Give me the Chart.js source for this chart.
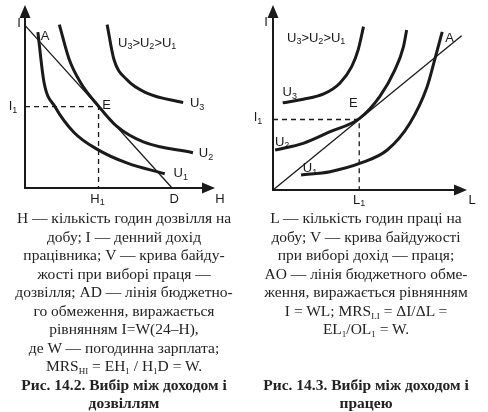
<!DOCTYPE html>
<html lang="uk">
<head>
<meta charset="utf-8">
<script src="https://cdn.jsdelivr.net/npm/chart.js@4.4.1/dist/chart.umd.min.js"></script>
<style>
    html, body { margin: 0; padding: 0; background: #fff; }
    #page { position: relative; width: 488px; height: 412px; overflow: hidden; }
    canvas { position: absolute; top: 0; }
    #leftChart { left: 0; }
    #rightChart { left: 244px; }
    .caption {
        position: absolute;
        top: 209px;
        text-align: center;
        font-family: 'Liberation Serif', 'Times New Roman', serif;
        font-size: 15.5px;
        line-height: 18.5px;
        color: #222;
        white-space: nowrap;
    }
    .caption b { font-weight: bold; }
    .caption sub { font-size: 9px; line-height: 0; vertical-align: -3px; }
    #capLeft { left: 0; width: 248px; }
    #capRight { left: 244px; width: 244px; }
</style>
</head>
<body>
<div id="page">
    <canvas id="leftChart" width="244" height="210"></canvas>
    <canvas id="rightChart" width="244" height="210"></canvas>

    <div class="caption" id="capLeft">
        H — кількість годин дозвілля на<br>
        добу; I — денний дохід<br>
        працівника; V — крива байду-<br>
        жості при виборі праця —<br>
        дозвілля; AD — лінія бюджетно-<br>
        го обмеження, виражається<br>
        рівнянням I=W(24–H),<br>
        де W — погодинна зарплата;<br>
        MRS<sub>HI</sub> = EH<sub>1</sub> / H<sub>1</sub>D = W.<br>
        <b>Рис. 14.2. Вибір між доходом і</b><br>
        <b>дозвіллям</b>
    </div>

    <div class="caption" id="capRight">
        L — кількість годин праці на<br>
        добу; V — крива байдужості<br>
        при виборі дохід — праця;<br>
        AO — лінія бюджетного обме-<br>
        ження, виражається рівнянням<br>
        I = WL; MRS<sub>LI</sub> = ΔI/ΔL =<br>
        EL<sub>1</sub>/OL<sub>1</sub> = W.<br>
        &nbsp;<br>
        &nbsp;<br>
        <b>Рис. 14.3. Вибір між доходом і</b><br>
        <b>працею</b>
    </div>
</div>

<script>
// Рис. 14.2 — дозвілля (H, годин) і дохід (I)
const axisH = [0, 31];
const axisI_left = [0, 135];
const adH = [0, 24];
const adI = [120, 0];
const pointE_left = [12, 60];      // H1, I1

const u1H = [2.1, 3.1, 4.9, 8.0, 11.8, 16.6, 22.8];
const u1I = [115, 78, 60, 41, 28.5, 18.5, 10.5];
const u2H = [5.6, 7.2, 9.1, 12, 15, 19.3, 27.4];
const u2I = [120.5, 95, 77.5, 60.4, 45.4, 34, 26];
const u3H = [13.4, 14.5, 16.6, 19.9, 25.8];
const u3I = [120.5, 95, 80, 70, 63];

// Рис. 14.3 — праця (L, годин) і дохід (I)
const axisL = [0, 18];
const axisI_right = [0, 105];
const oaL = [0, 17.5];
const oaI = [0, 87.5];
const pointE_right = [8, 40];      // L1, I1

const v1L = [2.6, 5.3, 8.1, 10.6, 12.7, 14.3, 15.0, 15.7];
const v1I = [8.5, 10.4, 15.2, 22.7, 37.9, 58.6, 73.8, 89.8];
const v2L = [0.2, 2.8, 5.3, 8.0, 9.9, 11.3, 12.1, 12.4];
const v2I = [22.7, 26.5, 33.1, 40.5, 53, 68, 81.3, 90.8];
const v3L = [0.9, 2.8, 4.7, 6.2, 7.3, 7.9, 8.4];
const v3I = [49.5, 51.5, 54.5, 60.6, 70, 79.5, 92.7];

const INK = '#1a1a1a';
const MAIN_FONT = "13px 'Liberation Sans', Arial, sans-serif";
const SUB_FONT = "9px 'Liberation Sans', Arial, sans-serif";

function zip(xs, ys) {
    return xs.map((x, i) => ({ x: x, y: ys[i] }));
}

function curve(xs, ys) {
    return {
        data: zip(xs, ys),
        showLine: true,
        borderColor: INK,
        borderWidth: 3,
        pointRadius: 0,
        cubicInterpolationMode: 'monotone',
        clip: false
    };
}

function thinLine(xs, ys, dash) {
    return {
        data: zip(xs, ys),
        showLine: true,
        borderColor: INK,
        borderWidth: 1.3,
        borderDash: dash || [],
        pointRadius: 0,
        clip: false
    };
}

// текст з підрядковими індексами: 'U_1' -> U з індексом 1
function drawRich(ctx, text, x, y, align) {
    const parts = [];
    for (let i = 0; i < text.length; i++) {
        if (text[i] === '_') {
            parts.push({ s: text[i + 1], sub: true });
            i++;
        } else {
            parts.push({ s: text[i], sub: false });
        }
    }
    let w = 0;
    parts.forEach(p => {
        ctx.font = p.sub ? SUB_FONT : MAIN_FONT;
        p.w = ctx.measureText(p.s).width;
        w += p.w;
    });
    let cx = align === 'left' ? x : x - w / 2;
    parts.forEach(p => {
        ctx.font = p.sub ? SUB_FONT : MAIN_FONT;
        ctx.fillText(p.s, cx, y + (p.sub ? 4 : 0));
        cx += p.w;
    });
}

// осі зі стрілками та підписи
const figurePlugin = {
    id: 'figure',
    afterDraw(chart, args, opts) {
        const ctx = chart.ctx;
        const a = chart.chartArea;
        const xs = chart.scales.x;
        const ys = chart.scales.y;
        const ox = xs.getPixelForValue(0);
        const oy = ys.getPixelForValue(0);

        ctx.save();
        ctx.strokeStyle = INK;
        ctx.fillStyle = INK;
        ctx.lineWidth = 2;
        ctx.beginPath();
        ctx.moveTo(ox, a.top + 10);
        ctx.lineTo(ox, oy);
        ctx.lineTo(a.right - 10, oy);
        ctx.stroke();

        ctx.beginPath();
        ctx.moveTo(ox, a.top);
        ctx.lineTo(ox - 5.5, a.top + 13);
        ctx.lineTo(ox + 5.5, a.top + 13);
        ctx.closePath();
        ctx.fill();

        ctx.beginPath();
        ctx.moveTo(a.right, oy);
        ctx.lineTo(a.right - 13, oy - 5.5);
        ctx.lineTo(a.right - 13, oy + 5.5);
        ctx.closePath();
        ctx.fill();

        ctx.textBaseline = 'middle';
        ctx.textAlign = 'left';
        opts.labels.forEach(l => {
            const px = xs.getPixelForValue(l.at[0]) + l.dx;
            const py = ys.getPixelForValue(l.at[1]) + l.dy;
            drawRich(ctx, l.text, px, py, l.align);
        });
        ctx.restore();
    }
};

function makeChart(id, datasets, xRange, yRange, padding, labels) {
    return new Chart(document.getElementById(id), {
        type: 'scatter',
        data: { datasets: datasets },
        options: {
            responsive: false,
            animation: false,
            layout: { padding: padding },
            scales: {
                x: { type: 'linear', min: xRange[0], max: xRange[1], display: false },
                y: { type: 'linear', min: yRange[0], max: yRange[1], display: false }
            },
            plugins: {
                legend: { display: false },
                tooltip: { enabled: false },
                figure: { labels: labels }
            }
        },
        plugins: [figurePlugin]
    });
}

const eL = pointE_left;
makeChart('leftChart', [
    thinLine([0, eL[0], eL[0]], [eL[1], eL[1], 0], [5, 4]),
    thinLine(adH, adI),
    curve(u1H, u1I),
    curve(u2H, u2I),
    curve(u3H, u3I)
], axisH, axisI_left, { left: 25, top: 5, right: 29, bottom: 22 }, [
    { text: 'I', at: [0, axisI_left[1]], dx: -6, dy: 18 },
    { text: 'H', at: [axisH[1], 0], dx: 5, dy: 11 },
    { text: 'H_1', at: [eL[0], 0], dx: -1, dy: 11 },
    { text: 'D', at: [adH[1], 0], dx: 2, dy: 11 },
    { text: 'I_1', at: [0, eL[1]], dx: -12, dy: 0 },
    { text: 'A', at: [adH[0], adI[0]], dx: 20, dy: 11 },
    { text: 'E', at: eL, dx: 8, dy: -1 },
    { text: 'U_1', at: [u1H[u1H.length - 1], u1I[u1I.length - 1]], dx: 16, dy: 0 },
    { text: 'U_2', at: [u2H[u2H.length - 1], u2I[u2I.length - 1]], dx: 13, dy: 1 },
    { text: 'U_3', at: [u3H[u3H.length - 1], u3I[u3I.length - 1]], dx: 14, dy: 1 },
    { text: 'U_3>U_2>U_1', at: [0, axisI_left[1]], dx: 93, dy: 38, align: 'left' }
]);

const eR = pointE_right;
makeChart('rightChart', [
    thinLine([0, eR[0], eR[0]], [eR[1], eR[1], 0], [5, 4]),
    thinLine(oaL, oaI),
    curve(v1L, v1I),
    curve(v2L, v2I),
    curve(v3L, v3I)
], axisL, axisI_right, { left: 29, top: 5, right: 21, bottom: 20 }, [
    { text: 'I', at: [0, axisI_right[1]], dx: -7, dy: 17 },
    { text: 'L', at: [axisL[1], 0], dx: 5, dy: 10 },
    { text: 'L_1', at: [eR[0], 0], dx: 0, dy: 10 },
    { text: 'I_1', at: [0, eR[1]], dx: -15, dy: -2 },
    { text: 'E', at: eR, dx: -6, dy: -16 },
    { text: 'A', at: [oaL[1], oaI[1]], dx: -12, dy: 3 },
    { text: 'U_1', at: [v1L[0], v1I[0]], dx: 9, dy: -7 },
    { text: 'U_2', at: [v2L[0], v2I[0]], dx: 7, dy: -8 },
    { text: 'U_3', at: [v3L[0], v3I[0]], dx: 7, dy: -10 },
    { text: 'U_3>U_2>U_1', at: [0, axisI_right[1]], dx: 14, dy: 33, align: 'left' }
]);
</script>
</body>
</html>
